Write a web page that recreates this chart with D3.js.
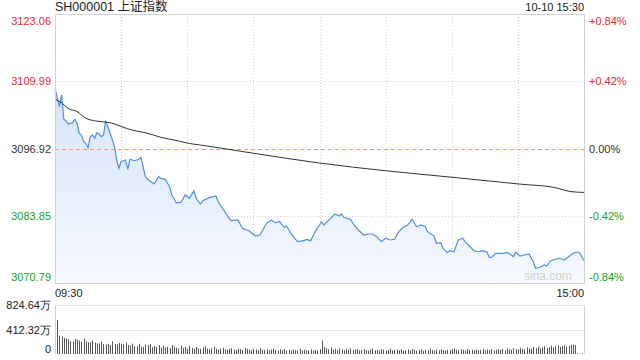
<!DOCTYPE html>
<html>
<head>
<meta charset="utf-8">
<script src="https://cdn.jsdelivr.net/npm/d3@7/dist/d3.min.js"></script>
<style>
  body { margin: 0; background: #fff; }
  svg { font-family: Arial, "Liberation Sans", "Noto Sans CJK SC", sans-serif; }
</style>
</head>
<body>
<svg id="chart" width="640" height="360"></svg>
<script>
// minute offsets from 09:30 (0..120 morning, 121..240 afternoon)
var priceMin = [0,2,3,4,5,6,8,9,10,11,12,13,14,15,16,17,18,19,20,21,22,23,25,27,28,29,30,32,33,34,36,38,39,41,42,45,47,48,50,52,53,55,57,58,59,61,63,64,66,67,70,73,74,76,79,80,83,85,88,91,93,96,98,100,102,104,105,107,110,113,114,116,118,119,121,122,125,127,129,130,131,134,136,138,140,142,144,146,148,150,152,154,156,158,160,162,164,166,168,169,172,173,175,176,178,179,181,183,185,186,188,190,192,194,196,197,198,200,203,205,206,208,209,211,213,215,217,218,220,222,223,225,227,229,231,233,235,237,238,240];
var price = [3108.62,3105.05,3107.32,3102.60,3102.33,3101.69,3101.94,3102.60,3101.82,3099.88,3099.55,3098.25,3097.94,3097.08,3099.22,3099.55,3098.91,3100.00,3099.74,3099.22,3099.55,3102.33,3099.88,3097.27,3094.69,3093.08,3094.36,3094.69,3092.88,3094.83,3094.55,3094.83,3095.22,3091.45,3090.94,3090.03,3091.45,3091.14,3090.94,3089.50,3087.89,3086.39,3086.39,3087.05,3087.89,3087.25,3088.73,3087.25,3086.14,3086.78,3087.37,3087.70,3086.59,3085.31,3083.36,3082.90,3083.03,3081.42,3080.95,3079.92,3080.12,3082.39,3083.03,3082.51,3082.70,3081.61,3081.87,3080.45,3078.82,3079.01,3079.28,3079.01,3080.76,3081.42,3082.70,3082.06,3083.36,3084.20,3083.81,3084.20,3083.56,3083.17,3081.87,3080.95,3080.12,3080.31,3080.31,3079.79,3078.82,3079.48,3079.15,3079.28,3080.76,3081.61,3082.06,3083.17,3081.73,3082.06,3081.73,3080.76,3079.92,3078.51,3078.62,3077.53,3076.68,3077.07,3076.87,3079.15,3079.48,3078.82,3077.98,3077.07,3076.87,3077.07,3076.81,3075.78,3075.78,3076.56,3076.56,3076.68,3076.56,3075.90,3076.81,3076.04,3076.23,3076.43,3074.93,3073.65,3073.84,3074.29,3074.09,3075.12,3075.40,3075.59,3075.26,3075.90,3076.56,3076.81,3076.68,3075.12];

var avgMin = [0,3,6,10,14,18,24,27,30,35,41,48,56,61,66,90,120,150,181,211,226,235,240];
var avgPrice = [3106.5,3105.8,3104.7,3104.1,3102.8,3102.3,3102.0,3101.7,3101.2,3100.5,3100.0,3099.1,3098.4,3097.9,3097.6,3096.0,3094.1,3092.6,3091.3,3090.0,3089.4,3088.5,3088.4];

// volume per minute, 万 shares (index = minute offset)
var volume = [
  824,572,308,290,272,262,250,215,212,258,240,225,205,262,215,200,195,230,190,178,
  176,210,165,160,172,150,210,168,160,185,172,160,190,150,145,175,130,128,172,125,
  118,160,150,165,112,135,118,150,108,140,112,120,98,150,125,108,95,140,102,118,
  90,135,100,86,118,95,84,110,128,92,80,96,120,88,72,90,105,78,70,86,
  98,74,68,92,80,66,102,84,72,64,88,76,60,95,70,66,80,62,74,90,
  68,58,76,64,84,60,70,56,78,66,62,88,58,72,64,60,76,58,68,62,80,
  225,120,96,80,110,72,88,66,92,78,62,84,70,96,64,74,88,60,70,82,
  66,58,76,90,62,70,56,84,72,60,64,92,58,68,76,62,80,56,66,74,
  60,86,70,58,64,78,55,72,62,90,66,58,74,62,80,68,56,72,64,84,
  96,70,62,80,74,58,86,66,72,60,78,64,70,88,62,76,68,82,60,74,
  80,70,86,64,92,78,72,98,84,76,105,88,80,112,95,86,120,100,125,92,
  110,130,104,120,140,112,128,145,118,135,150,125,140,155,160,150,12,10,10,300
];

var priceTicks = [3123.06, 3109.99, 3096.92, 3083.85, 3070.79];
var pctTicks = ["+0.84%", "+0.42%", "0.00%", "-0.42%", "-0.84%"];
var volTicks = [824.64, 412.32, 0];
var volTickLabels = ["824.64万", "412.32万", "0"];
var timeLabels = ["09:30", "15:00"];
var preClose = 3096.92;

var svg = d3.select("#chart");
var L = 55, R = 584, T = 14, B = 283, VT = 305, VB = 354;

var x = d3.scaleLinear().domain([0, 240]).range([L, R]);
var y = d3.scaleLinear().domain([3070.79, 3123.06]).range([B, T]);
var yv = d3.scaleLinear().domain([0, 824.64]).range([VB, VT]);

function tickColor(v) {
  if (Math.abs(v - preClose) < 0.01) return "#333";
  return v > preClose ? "#f2272d" : "#1aa31a";
}

// gradient for area
var defs = svg.append("defs");
var grad = defs.append("linearGradient").attr("id", "fillGrad")
  .attr("x1", 0).attr("y1", 0).attr("x2", 0).attr("y2", 1);
grad.append("stop").attr("offset", "0%").attr("stop-color", "#d6e4fb");
grad.append("stop").attr("offset", "100%").attr("stop-color", "#f6f9fe");

// header
svg.append("text").attr("x", L).attr("y", 11).attr("font-size", 12.5).attr("fill", "#222")
  .text("SH000001 上证指数");
svg.append("text").attr("x", R).attr("y", 11).attr("font-size", 11).attr("fill", "#222")
  .attr("text-anchor", "end").text("10-10 15:30");

// vertical grid
var vgrid = d3.range(1, 8).map(function(k) { return k * 30; });
svg.append("g").selectAll("line").data(vgrid).join("line")
  .attr("x1", function(d) { return Math.round(x(d)) + 0.5; })
  .attr("x2", function(d) { return Math.round(x(d)) + 0.5; })
  .attr("y1", T).attr("y2", B)
  .attr("stroke", "#cfcfcf").attr("stroke-dasharray", "1,2");

// horizontal grid
svg.append("g").selectAll("line").data([priceTicks[1], priceTicks[3]]).join("line")
  .attr("x1", L).attr("x2", R)
  .attr("y1", function(d) { return Math.round(y(d)) + 0.5; })
  .attr("y2", function(d) { return Math.round(y(d)) + 0.5; })
  .attr("stroke", "#cfcfcf").attr("stroke-dasharray", "1,2");

// area + price line
var area = d3.area()
  .x(function(d, i) { return x(priceMin[i]); })
  .y0(B).y1(function(d) { return y(d); });
svg.append("path").datum(price).attr("d", area).attr("fill", "url(#fillGrad)");

svg.append("line").attr("x1", L).attr("x2", R)
  .attr("y1", Math.round(y(preClose)) + 0.5).attr("y2", Math.round(y(preClose)) + 0.5)
  .attr("stroke", "#f29c6b").attr("stroke-dasharray", "4,3");

var line = d3.line()
  .x(function(d, i) { return x(priceMin[i]); })
  .y(function(d) { return y(d); });
svg.append("path").datum(price).attr("d", line)
  .attr("fill", "none").attr("stroke", "#4c8ef2").attr("stroke-width", 1.2);

var avgLine = d3.line().curve(d3.curveMonotoneX)
  .x(function(d, i) { return x(avgMin[i]); })
  .y(function(d) { return y(d); });
svg.append("path").datum(avgPrice).attr("d", avgLine)
  .attr("fill", "none").attr("stroke", "#333").attr("stroke-width", 1);

// frame
svg.append("rect").attr("x", L + 0.5).attr("y", T + 0.5).attr("width", R - L).attr("height", B - T)
  .attr("fill", "none").attr("stroke", "#d2d2d2");

// watermark
svg.append("text").attr("x", 572).attr("y", 280).attr("font-size", 12).attr("fill", "#d0d0d0")
  .attr("text-anchor", "end").text("sina.com");

// left axis
var yAxis = d3.axisLeft(y).tickValues(priceTicks).tickSize(0).tickPadding(4)
  .tickFormat(d3.format(".2f"));
var gy = svg.append("g").attr("transform", "translate(" + L + ",0)").call(yAxis);
gy.select(".domain").remove();
gy.selectAll("text").attr("font-size", 11).attr("font-family", null)
  .attr("fill", function(d) { return tickColor(d); })
  .attr("dy", function(d, i) { return i === 0 ? "0.95em" : (i === priceTicks.length - 1 ? "-0.2em" : "0.32em"); });

// right axis
var yRight = d3.axisRight(y).tickValues(priceTicks).tickSize(0).tickPadding(5)
  .tickFormat(function(d, i) { return pctTicks[i]; });
var gr = svg.append("g").attr("transform", "translate(" + R + ",0)").call(yRight);
gr.select(".domain").remove();
gr.selectAll("text").attr("font-size", 11).attr("font-family", null)
  .attr("fill", function(d) { return tickColor(d); })
  .attr("dy", function(d, i) { return i === 0 ? "0.95em" : (i === priceTicks.length - 1 ? "-0.2em" : "0.32em"); });

// time labels
svg.append("text").attr("x", x(0)).attr("y", 297).attr("font-size", 11).attr("fill", "#222")
  .text(timeLabels[0]);
svg.append("text").attr("x", x(240)).attr("y", 297).attr("font-size", 11).attr("fill", "#222")
  .attr("text-anchor", "end").text(timeLabels[1]);

// volume panel
svg.append("g").selectAll("line").data([volTicks[0], volTicks[1]]).join("line")
  .attr("x1", L).attr("x2", R)
  .attr("y1", function(d) { return Math.round(yv(d)) + 0.5; })
  .attr("y2", function(d) { return Math.round(yv(d)) + 0.5; })
  .attr("stroke", "#c8c8c8").attr("stroke-dasharray", "1,1");

svg.append("g").selectAll("rect").data(volume).join("rect")
  .attr("x", function(d, i) { return Math.round(x(i)); })
  .attr("width", 1)
  .attr("y", function(d) { return yv(d); })
  .attr("height", function(d) { return VB - yv(d); })
  .attr("fill", "#555");

svg.append("line").attr("x1", L + 0.5).attr("x2", L + 0.5).attr("y1", VT).attr("y2", VB)
  .attr("stroke", "#d2d2d2");
svg.append("line").attr("x1", R + 0.5).attr("x2", R + 0.5).attr("y1", VT).attr("y2", VB)
  .attr("stroke", "#d2d2d2");

var vAxis = d3.axisLeft(yv).tickValues(volTicks).tickSize(0).tickPadding(4)
  .tickFormat(function(d, i) { return volTickLabels[i]; });
var gv = svg.append("g").attr("transform", "translate(" + L + ",0)").call(vAxis);
gv.select(".domain").remove();
gv.selectAll("text").attr("font-size", 11).attr("font-family", null).attr("fill", "#222")
  .attr("dy", function(d, i) { return i === volTicks.length - 1 ? "-0.15em" : "0.32em"; });
</script>
</body>
</html>
